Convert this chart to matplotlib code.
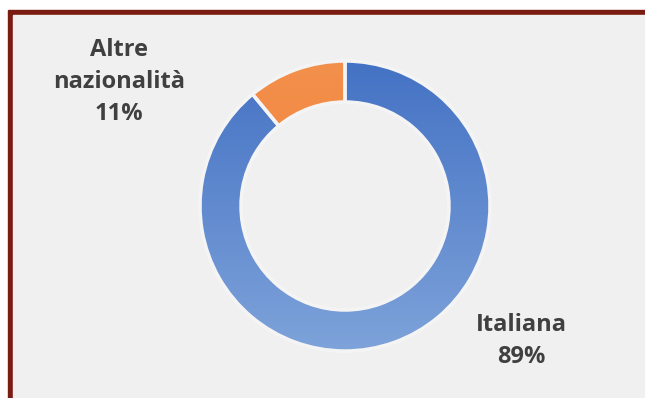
import numpy as np
import matplotlib.pyplot as plt
from matplotlib.patches import Wedge
from matplotlib.colors import LinearSegmentedColormap

labels = ["Italiana", "Altre\nnazionalità"]
shares = [89, 11]
colors = ["#4f7cc9", "#f0853f"]

W, H = 645, 398
fig = plt.figure(figsize=(W / 100, H / 100), dpi=100)
fig.patch.set_facecolor("white")
ax = fig.add_axes([0, 0, 1, 1])

# frame: dark red border with light grey panel
ax.add_patch(plt.Rectangle((8, -10), 660, 398, color="#7b1c12", zorder=0))
ax.add_patch(plt.Rectangle((13, -10), 660, 393, color="#f0f0f0", zorder=0))

cx, cy, r = 345, 192, 145
wedges, _ = ax.pie(shares, colors=colors, startangle=90, counterclock=False,
                   center=(cx, cy), radius=r, frame=True,
                   wedgeprops=dict(width=41, edgecolor="white", linewidth=2))
ax.set_xlim(0, W)
ax.set_ylim(0, H)
ax.set_aspect("equal")
ax.axis("off")

# vertical gradients on the slices
grad = np.linspace(0, 1, 256).reshape(-1, 1)
cmaps = [LinearSegmentedColormap.from_list("b", ["#7ea3da", "#4472c4"]),
         LinearSegmentedColormap.from_list("o", ["#ee7a32", "#f3904c"])]
for w, cm in zip(wedges, cmaps):
    im = ax.imshow(grad, cmap=cm, extent=(cx - r, cx + r, cy - r, cy + r),
                   origin="lower", aspect="auto", zorder=1.1)
    im.set_clip_path(w)
    # separators
    ax.add_patch(Wedge(w.center, w.r, w.theta1, w.theta2, width=w.width,
                       facecolor="none", edgecolor="#f4f4f4", linewidth=2.5, zorder=2))

font = dict(fontsize=17, fontweight="bold", color="#404040", ha="center",
            va="center", family=["Open Sans", "DejaVu Sans"], linespacing=1.45)
ax.text(119, 316, f"{labels[1]}\n{shares[1]}%", **font)
ax.text(521, 57, f"{labels[0]}\n{shares[0]}%", **font)

fig.savefig("out.png", dpi=100, facecolor=fig.get_facecolor())
